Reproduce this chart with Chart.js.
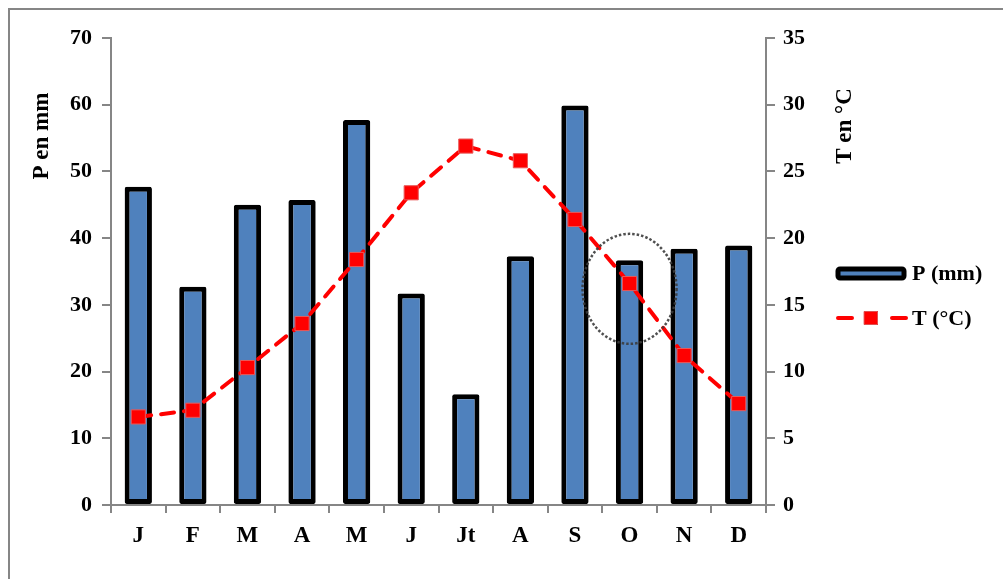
<!DOCTYPE html>
<html><head><meta charset="utf-8">
<script src="https://cdn.jsdelivr.net/npm/chart.js@4/dist/chart.umd.min.js"></script>
<style>
html,body{margin:0;padding:0;background:#fff;overflow:hidden;}
#wrap{position:relative;width:1003px;height:579px;}
#frame{position:absolute;left:8px;top:8px;width:1100px;height:700px;border-left:2px solid #868686;border-top:2px solid #868686;box-sizing:border-box;}
canvas{position:absolute;left:0;top:0;}
</style></head>
<body><div id="wrap"><div id="frame"></div><canvas id="c" width="1003" height="579"></canvas></div>
<script>
const months = ['J','F','M','A','M','J','Jt','A','S','O','N','D'];
const precip = [47.7, 32.7, 45.0, 45.7, 57.7, 31.7, 16.6, 37.3, 59.9, 36.7, 38.4, 38.9];
const temp = [6.6, 7.1, 10.3, 13.6, 18.4, 23.4, 26.9, 25.8, 21.4, 16.6, 11.2, 7.6];
const leftTicks = [0,10,20,30,40,50,60,70];
const rightTicks = [0,5,10,15,20,25,30,35];
const labels = {yLeft:'P en mm', yRight:'T en °C', p:'P (mm)', t:'T (°C)'};

const FONT = '"Liberation Serif","Times New Roman",serif';
const GRAY = '#868686';

const deco = {
  id:'deco',
  afterDraw(chart){
    const ctx = chart.ctx;
    const xs = chart.scales.x, y1 = chart.scales.y1;
    ctx.save();
    // dotted ellipse around October
    const cx = xs.getPixelForValue(9), cy = y1.getPixelForValue(16.2);
    ctx.beginPath();
    ctx.setLineDash([2.5,2]);
    ctx.lineWidth = 2.5;
    ctx.strokeStyle = 'rgba(60,60,60,0.9)';
    ctx.ellipse(cx, cy, 47, 55, 0, 0, Math.PI*2);
    ctx.stroke();
    ctx.setLineDash([]);
    // axis titles
    ctx.fillStyle = '#000';
    ctx.font = 'bold 23px ' + FONT;
    ctx.textAlign = 'center'; ctx.textBaseline = 'middle';
    ctx.save(); ctx.translate(42, 136); ctx.rotate(-Math.PI/2); ctx.fillText(labels.yLeft, 0, 0); ctx.restore();
    ctx.save(); ctx.translate(845, 126); ctx.rotate(-Math.PI/2); ctx.fillText(labels.yRight, 0, 0); ctx.restore();
    // legend
    ctx.lineJoin = 'round';
    ctx.fillStyle = '#4F81BD'; ctx.strokeStyle = '#000'; ctx.lineWidth = 5;
    ctx.beginPath(); ctx.roundRect(838, 269, 66, 9, 2); ctx.fill(); ctx.stroke();
    ctx.strokeStyle = '#FF0000'; ctx.lineWidth = 4; ctx.lineCap='round';
    ctx.beginPath(); ctx.moveTo(838,318); ctx.lineTo(852,318); ctx.moveTo(892,318); ctx.lineTo(906,318); ctx.stroke();
    ctx.fillStyle = '#FF0000'; ctx.fillRect(864,311,14,14);
    ctx.strokeStyle = '#E05050'; ctx.lineWidth=1; ctx.strokeRect(864.5,311.5,13,13);
    ctx.fillStyle = '#000'; ctx.textAlign='left';
    ctx.font = 'bold 22px ' + FONT;
    ctx.fillText(labels.p, 912, 274);
    ctx.fillText(labels.t, 912, 319);
    ctx.restore();
  }
};

new Chart(document.getElementById('c'), {
  data:{
    labels: months,
    datasets:[
      {type:'line', label:labels.t, data:temp, yAxisID:'y1', order:0,
       borderColor:'#FF0000', borderWidth:4, borderDash:[13,10], borderCapStyle:'round',
       pointStyle:'rect', pointRadius:10, pointBackgroundColor:'#FF0000', pointBorderColor:'#E85A5A', pointBorderWidth:1, tension:0},
      {type:'bar', label:labels.p, data:precip, yAxisID:'y', order:1,
       backgroundColor:'#4F81BD', borderColor:'#000', borderWidth:5, borderSkipped:false, borderRadius:2,
       categoryPercentage:1, barPercentage:0.5}
    ]
  },
  options:{
    responsive:false, animation:false, devicePixelRatio:1,
    layout:{padding:{top:38,left:0,right:0,bottom:0}},
    plugins:{legend:{display:false}, tooltip:{enabled:false}},
    scales:{
      x:{
        offset:true,
        grid:{display:true, drawOnChartArea:false, drawTicks:true, tickLength:8, color:GRAY, lineWidth:2, offset:true},
        border:{display:true, color:GRAY, width:2},
        ticks:{font:{family:FONT, size:23, weight:'bold'}, color:'#000', padding:9, maxRotation:0},
        afterFit(s){ s.height = 74; }
      },
      y:{
        position:'left', min:0, max:70,
        afterBuildTicks(s){ s.ticks = leftTicks.map(v=>({value:v})); },
        grid:{display:true, drawOnChartArea:false, drawTicks:true, tickLength:9, color:GRAY, lineWidth:2},
        border:{display:true, color:GRAY, width:2},
        ticks:{font:{family:FONT, size:22, weight:'bold'}, color:'#000', padding:10},
        afterFit(s){ s.width = 111; }
      },
      y1:{
        position:'right', min:0, max:35,
        afterBuildTicks(s){ s.ticks = rightTicks.map(v=>({value:v})); },
        grid:{display:true, drawOnChartArea:false, drawTicks:true, tickLength:9, color:GRAY, lineWidth:2},
        border:{display:true, color:GRAY, width:2},
        ticks:{font:{family:FONT, size:22, weight:'bold'}, color:'#000', padding:8},
        afterFit(s){ s.width = 237; }
      }
    }
  },
  plugins:[deco]
});
</script></body></html>
